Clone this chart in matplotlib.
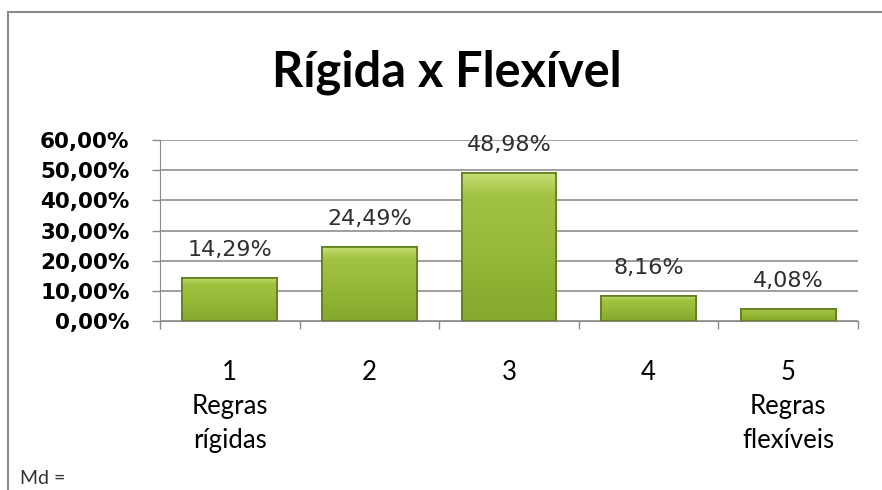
import numpy as np
import matplotlib
matplotlib.use("Agg")
import matplotlib.pyplot as plt
from matplotlib.patches import Rectangle

# dados
categorias = ["1\nRegras\nrígidas", "2", "3", "4", "5\nRegras\nflexíveis"]
valores = [0.1429, 0.2449, 0.4898, 0.0816, 0.0408]
rotulos = ["14,29%", "24,49%", "48,98%", "8,16%", "4,08%"]
yticks = [0.0, 0.1, 0.2, 0.3, 0.4, 0.5, 0.6]
ytick_labels = ["0,00%", "10,00%", "20,00%", "30,00%", "40,00%", "50,00%", "60,00%"]

W, H = 882, 490
fig = plt.figure(figsize=(W / 100, H / 100), dpi=100)
fig.patch.set_facecolor("white")

# moldura do grafico
fig.patches.append(Rectangle((8 / W, -0.1), 1.2, 1 - 12 / H + 0.1, transform=fig.transFigure,
                             fill=False, edgecolor="#8a8a8a", linewidth=1.5))

ax = fig.add_axes([160 / W, 1 - 321 / H, 698 / W, 181 / H])
x = np.arange(len(valores))
barras = ax.bar(x, valores, width=0.68, color="#9bbd3a", edgecolor="#5f7d1c", linewidth=1.2, zorder=3)

# degrade nas barras (topo mais claro)
grad = np.linspace(0, 1, 100).reshape(-1, 1)
cmap = matplotlib.colors.LinearSegmentedColormap.from_list(
    "verde", [(0, "#86a82c"), (0.5, "#98ba38"), (0.85, "#a2c342"), (1, "#c4dd72")])
for b in barras:
    bx, by, bw, bh = b.get_x(), b.get_y(), b.get_width(), b.get_height()
    im = ax.imshow(grad, extent=[bx, bx + bw, by, by + bh], origin="lower",
                   cmap=cmap, aspect="auto", zorder=3.5)
    im.set_clip_path(b)
    ax.add_patch(Rectangle((bx, by), bw, bh, fill=False, edgecolor="#5f7d1c",
                           linewidth=1.2, zorder=4))

for xi, v, r in zip(x, valores, rotulos):
    ax.annotate(r, (xi, v), xytext=(0, 13), textcoords="offset points",
                ha="center", va="bottom", fontsize=16, color="#2e2e2e",
                family="DejaVu Sans", zorder=5)

ax.set_xlim(-0.5, len(valores) - 0.5)
ax.set_ylim(0, 0.6)
ax.set_yticks(yticks)
ax.set_yticklabels(ytick_labels, fontsize=15.5, fontweight="bold", family="DejaVu Sans")
ax.set_xticks(x)
ax.set_xticklabels(categorias, fontsize=18.5, family="Lato", linespacing=1.45)
ax.tick_params(axis="x", length=0, pad=28)
ax.tick_params(axis="y", length=6, width=1, color="#8a8a8a", pad=16)
ax.set_xticks(np.arange(len(valores) + 1) - 0.5, minor=True)
ax.tick_params(axis="x", which="minor", length=6, width=1, color="#8a8a8a", direction="out")

ax.grid(axis="y", color="#8f8f8f", linewidth=1.2, zorder=0)
for s in ["top", "right"]:
    ax.spines[s].set_visible(False)
ax.spines["left"].set_color("#8a8a8a")
ax.spines["bottom"].set_color("#8a8a8a")

fig.text(447 / W, 1 - 72 / H, "Rígida x Flexível", ha="center", va="center",
         fontsize=35, fontweight="bold", family="Lato")
fig.text(20 / W, 1 - 470 / H, "Md =", ha="left", va="top", fontsize=14, family="Lato",
         color="#333333")

fig.savefig("out.png", dpi=100)
